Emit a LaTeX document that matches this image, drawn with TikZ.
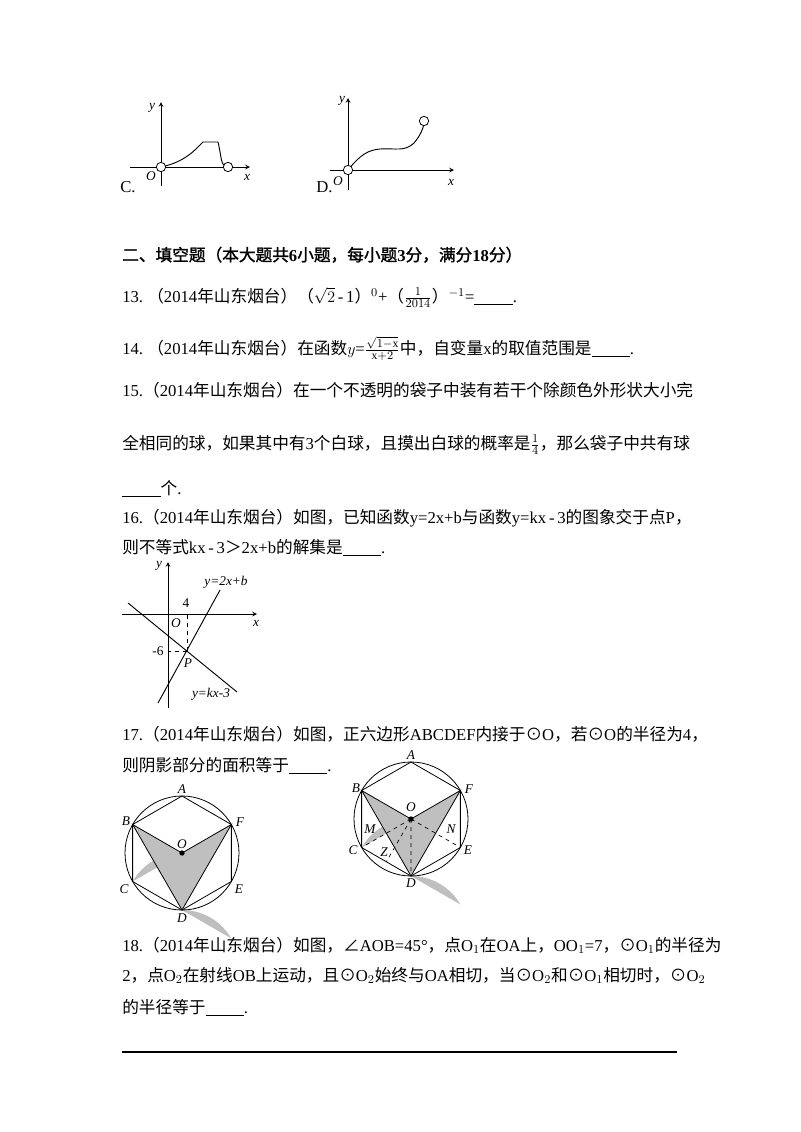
\documentclass[tikz,border=0pt]{standalone}
\usepackage{fontspec}
\usetikzlibrary{calc}
\setmainfont{Liberation Serif}
\newfontfamily\cjk{Noto Sans CJK SC}
\newfontfamily\cjkb[FakeBold=1.5]{Noto Sans CJK SC}
\newcommand\zh[1]{{\cjk #1}}
\newcommand\blank{\rule[-2pt]{2.3em}{0.6pt}}
\begin{document}
\begin{tikzpicture}[x=0.75pt,y=-0.75pt,
  txt/.style={anchor=base west,inner sep=0pt,font=\fontsize{12.5}{15}\selectfont},
  lab/.style={inner sep=0pt,font=\fontsize{10}{12}\selectfont\itshape},
  ax/.style={->,>=stealth,line width=0.6pt},
  crv/.style={line width=0.7pt},
  oc/.style={circle,draw,fill=white,inner sep=0pt,minimum size=7pt,line width=0.6pt},
  shade/.style={fill=black!25}]
\useasboundingbox (0,0) rectangle (800,1132);
% ---- graph C
\coordinate (cO) at (161,167);
\draw[ax] (130,167) -- (250,167);
\draw[ax] (161,186) -- (161,102);
\draw[crv] (cO) .. controls (185,162) and (195,150) .. (203,142) -- (218,142) .. controls (222,158) and (220,166) .. (228,167);
\node[oc] (c0) at (cO) {};
\node[oc] (c1) at (228,167) {};
\node[lab] (cy) at (152,108) {y};
\node[lab] (cOl) at (151,176) {O};
\node[lab] (cx) at (247,177) {x};
\node[txt] (cC) at (120,192) {C.};
% ---- graph D
\coordinate (dO) at (348,170);
\draw[ax] (330,170) -- (454,170);
\draw[ax] (348,190) -- (348,98);
\draw[crv] (dO) .. controls (360,155) and (368,150) .. (380,149) .. controls (395,148) and (405,152) .. (414,143) .. controls (420,136) and (424,128) .. (424,121);
\node[oc] (d0) at (dO) {};
\node[oc] (d1) at (424,121) {};
\node[lab] (dy) at (342,101) {y};
\node[lab] (dOl) at (338,181) {O};
\node[lab] (dx) at (451,182) {x};
\node[txt] (dD) at (316,192) {D.};
% ---- text
\node[txt] (h) at (122,261) {{\cjkb 二、填空题（本大题共}\textbf{6}{\cjkb 小题，每小题}\textbf{3}{\cjkb 分，满分}\textbf{18}{\cjkb 分）}};
\node[txt] (q13) at (122,302) {13.\ \zh{（}2014\zh{年山东烟台）（}$\sqrt{2}$\,-\,1\zh{）}$^{0}$+\zh{（}$\frac{1}{2014}$\zh{）}$^{-1}$=\blank.};
\node[txt] (q14) at (122,354) {14.\ \zh{（}2014\zh{年山东烟台）在函数}$y$=$\frac{\sqrt{1-\mathrm{x}}}{\mathrm{x}+2}$\zh{中，自变量}x\zh{的取值范围是}\blank.};
\node[txt] (q15) at (122,396) {15.\zh{（}2014\zh{年山东烟台）在一个不透明的袋子中装有若干个除颜色外形状大小完}};
\node[txt] (q15b) at (122,449) {\zh{全相同的球，如果其中有}3\zh{个白球，且摸出白球的概率是}$\frac{1}{4}$\zh{，那么袋子中共有球}};
\node[txt] (q15c) at (122,494) {\blank\zh{个}.};
\node[txt] (q16) at (122,523) {16.\zh{（}2014\zh{年山东烟台）如图，已知函数}y=2x+b\zh{与函数}y=kx\,-\,3\zh{的图象交于点}P\zh{，}};
\node[txt] (q16b) at (122,553) {\zh{则不等式}kx\,-\,3\zh{＞}2x+b\zh{的解集是}\blank.};
% ---- graph 16
\coordinate (gO) at (168,614);
\coordinate (P) at (187,651);
\draw[ax] (122,614) -- (257,614);
\draw[ax] (168,708) -- (168,562);
\draw[crv] (158,703) -- (220,590);
\draw[crv] (128,603) -- (237,692);
\draw[dashed,line width=0.5pt] (P) -- (187,614);
\draw[dashed,line width=0.5pt] (P) -- (168,651);
\node[lab] (g4) at (186,603) {\upshape 4};
\node[lab] (g6) at (158,651) {\upshape -6};
\node[lab] (gP) at (188,663) {P};
\node[lab] (gOl) at (176,623) {O};
\node[lab] (gx) at (256,623) {x};
\node[lab] (gy) at (159,566) {y};
\node[lab] (gl1) at (226,582) {y=2x+b};
\node[lab] (gl2) at (211,694) {y=kx-3};
% ---- text 17
\node[txt] (q17) at (122,740) {17.\zh{（}2014\zh{年山东烟台）如图，正六边形}ABCDEF\zh{内接于⊙}O\zh{，若⊙}O\zh{的半径为}4\zh{，}};
\node[txt] (q17b) at (122,771) {\zh{则阴影部分的面积等于}\blank.};
% ---- left hexagon
\begin{scope}[shift={(182,853)}]
\def\r{57}
\coordinate (O1) at (0,0);
\foreach \n/\a in {A/90,B/150,C/210,D/270,E/330,F/30}{\coordinate (L\n) at ({\r*cos(\a)},{-\r*sin(\a)});}
\fill[shade] (LC) arc[start angle=-150,end angle=-90,radius=\r] -- cycle;
\fill[shade] (LD) arc[start angle=-90,end angle=-30,radius=\r] -- cycle;
\fill[shade] (LB) -- (O1) -- (LF) -- (LD) -- cycle;
\draw[line width=0.6pt] (O1) circle[radius=\r];
\draw[line width=0.6pt] (LA)--(LB)--(LC)--(LD)--(LE)--(LF)--cycle;
\draw[line width=0.6pt] (LB) -- (O1) -- (LF) -- (LD) -- cycle;
\fill (O1) circle[radius=2pt];
\node[lab] (tA) at (0,-64) {A};
\node[lab] (tB) at (-56,-32) {B};
\node[lab] (tC) at (-58,36) {C};
\node[lab] (tD) at (0,65) {D};
\node[lab] (tE) at (57,36) {E};
\node[lab] (tF) at (58,-31) {F};
\node[lab] (tO) at (0,-9) {O};
\end{scope}
% ---- right hexagon
\begin{scope}[shift={(411,819)}]
\def\r{57}
\coordinate (O2) at (0,0);
\foreach \n/\a in {A/90,B/150,C/210,D/270,E/330,F/30}{\coordinate (R\n) at ({\r*cos(\a)},{-\r*sin(\a)});}
\fill[shade] (RC) arc[start angle=-150,end angle=-90,radius=\r] -- cycle;
\fill[shade] (RD) arc[start angle=-90,end angle=-30,radius=\r] -- cycle;
\fill[shade] (RB) -- (O2) -- (RF) -- (RD) -- cycle;
\draw[line width=0.6pt] (O2) circle[radius=\r];
\draw[line width=0.6pt] (RA)--(RB)--(RC)--(RD)--(RE)--(RF)--cycle;
\draw[line width=0.6pt] (RB) -- (O2) -- (RF) -- (RD) -- cycle;
\coordinate (RZ) at ($(RC)!0.5!(RD)$);
\draw[dashed,line width=0.5pt] (O2) -- (RC) (O2) -- (RE) (O2) -- (RD) (O2) -- (RZ);
\fill (O2) circle[radius=2pt];
\node[lab] (sA) at (0,-64) {A};
\node[lab] (sB) at (-55,-31) {B};
\node[lab] (sC) at (-58,31) {C};
\node[lab] (sD) at (0,64) {D};
\node[lab] (sE) at (57,31) {E};
\node[lab] (sF) at (58,-30) {F};
\node[lab] (sO) at (0,-12) {O};
\node[lab] (sM) at (-41,10) {M};
\node[lab] (sN) at (40,10) {N};
\node[lab] (sZ) at (-27,33) {Z};
\end{scope}
% ---- text 18
\node[txt] (q18) at (122,951) {18.\zh{（}2014\zh{年山东烟台）如图，∠}AOB=45°\zh{，点}O$_1$\zh{在}OA\zh{上，}OO$_1$=7\zh{，⊙}O$_1$\zh{的半径为}};
\node[txt] (q18b) at (122,981) {2\zh{，点}O$_2$\zh{在射线}OB\zh{上运动，且⊙}O$_2$\zh{始终与}OA\zh{相切，当⊙}O$_2$\zh{和⊙}O$_1$\zh{相切时，⊙}O$_2$};
\node[txt] (q18c) at (122,1013) {\zh{的半径等于}\blank.};
\draw[line width=0.8pt] (122,1052) -- (677,1052);
\end{tikzpicture}
\end{document}
